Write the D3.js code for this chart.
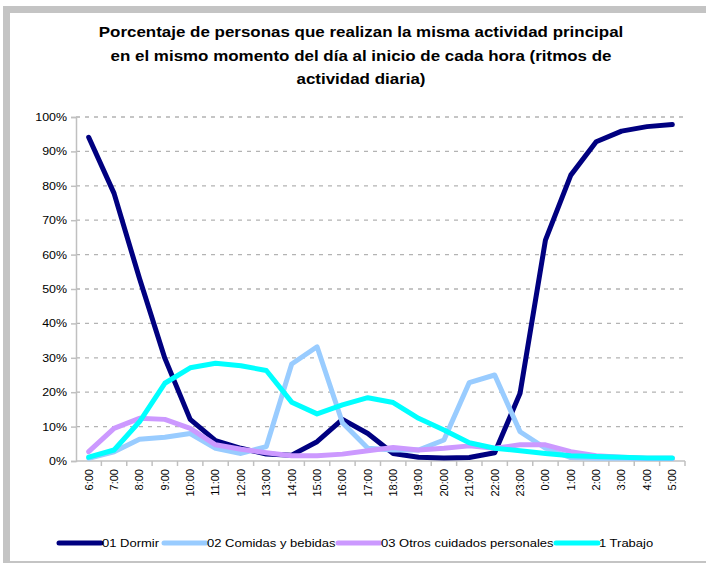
<!DOCTYPE html>
<html>
<head>
<meta charset="utf-8">
<script src="https://cdn.jsdelivr.net/npm/d3@7/dist/d3.min.js"></script>
<style>
  body { margin: 0; background: #fff; }
  svg { display: block; font-family: "Liberation Sans", Arial, sans-serif; }
</style>
</head>
<body>
<script>
// hours of the day (categories)
var hours = ["6:00","7:00","8:00","9:00","10:00","11:00","12:00","13:00","14:00","15:00","16:00","17:00",
             "18:00","19:00","20:00","21:00","22:00","23:00","0:00","1:00","2:00","3:00","4:00","5:00"];

// series values, in percent
var dormir   = [94.1,77.8,53.1,29.9,12.1,5.9,3.7,2.0,1.7,5.6,12.1,8.0,2.2,1.1,0.9,1.0,2.4,19.7,64.2,83.1,92.8,95.9,97.2,97.8];
var comidas  = [0.8,2.7,6.3,6.9,8.0,3.7,2.2,4.2,28.2,33.2,11.1,3.7,3.2,3.2,6.1,22.8,25.0,8.5,3.7,1.0,0.8,0.8,0.7,0.7];
var otros    = [2.7,9.5,12.4,12.1,9.5,4.7,3.4,2.4,1.5,1.5,2.0,3.0,3.9,3.2,3.7,4.4,3.7,4.7,4.7,2.7,1.5,1.1,0.8,0.8];
var trabajo  = [1.1,3.2,11.4,22.6,27.1,28.4,27.7,26.3,17.1,13.7,16.3,18.4,17.0,12.4,9.0,5.3,3.7,3.0,2.2,1.5,1.3,1.1,0.9,0.9];

var seriesNames  = ["01 Dormir","02 Comidas y bebidas","03 Otros cuidados personales","1 Trabajo"];
var seriesColors = ["#000080","#99CCFF","#CC99FF","#00FFFF"];
var seriesData   = [dormir, comidas, otros, trabajo];

var titleLines = ["Porcentaje de personas que realizan la misma actividad principal",
                  "en el mismo momento del día al inicio de cada hora (ritmos de",
                  "actividad diaria)"];

var width = 706, height = 563;
var margin = {top: 117, right: 21, bottom: 102, left: 76};
var stretch = 1.13; // text in the original is a bit wide

var svg = d3.select("body").append("svg")
    .attr("width", width)
    .attr("height", height);

// chart frame
svg.append("rect").attr("x", 3).attr("y", 6).attr("width", width - 3).attr("height", 7).attr("fill", "#c4c4c4");
svg.append("rect").attr("x", 3).attr("y", 6).attr("width", 7).attr("height", height - 6).attr("fill", "#c4c4c4");
svg.append("rect").attr("x", 3).attr("y", 561).attr("width", width - 3).attr("height", 2).attr("fill", "#c4c4c4");

// title
svg.append("g").selectAll("text")
    .data(titleLines)
  .enter().append("text")
    .attr("transform", function(d, i) {
      return "translate(361," + (37 + i * 23.5) + ") scale(" + stretch + ",1)";
    })
    .attr("text-anchor", "middle")
    .style("font-size", "15px")
    .style("font-weight", "bold")
    .text(function(d) { return d; });

var x = d3.scaleBand()
    .domain(hours)
    .range([margin.left, width - margin.right]);

var y = d3.scaleLinear()
    .domain([0, 100])
    .range([height - margin.bottom, margin.top]);

// grid lines
svg.append("g").selectAll("line")
    .data(d3.range(10, 101, 10))
  .enter().append("line")
    .attr("x1", margin.left)
    .attr("x2", width - margin.right)
    .attr("y1", function(d) { return y(d); })
    .attr("y2", function(d) { return y(d); })
    .attr("stroke", "#b3b3b3")
    .attr("stroke-width", 1.3)
    .attr("stroke-dasharray", "4,5");

// y axis
var yAxis = svg.append("g")
    .attr("transform", "translate(" + margin.left + ",0)")
    .call(d3.axisLeft(y)
      .tickValues(d3.range(0, 101, 10))
      .tickSize(5)
      .tickPadding(4)
      .tickFormat(function(d) { return d + "%"; }));
yAxis.select(".domain").attr("stroke", "#c0c0c0").attr("stroke-width", 1.5);
yAxis.selectAll(".tick line").attr("stroke", "#c0c0c0").attr("stroke-width", 1.5);
yAxis.selectAll("text")
    .attr("x", 0)
    .attr("transform", "translate(-9,0) scale(" + stretch + ",1)")
    .style("font-size", "11px")
    .attr("fill", "#000");

// x axis line and ticks at band edges
var xg = svg.append("g");
xg.append("line")
    .attr("x1", margin.left).attr("x2", width - margin.right)
    .attr("y1", y(0)).attr("y2", y(0))
    .attr("stroke", "#c0c0c0").attr("stroke-width", 1.5);
xg.selectAll(".xt")
    .data(hours)
  .enter().append("line")
    .attr("class", "xt")
    .attr("x1", function(d) { return x(d) + x.bandwidth(); })
    .attr("x2", function(d) { return x(d) + x.bandwidth(); })
    .attr("y1", y(0)).attr("y2", y(0) + 5)
    .attr("stroke", "#c0c0c0").attr("stroke-width", 1.5);
xg.selectAll("text")
    .data(hours)
  .enter().append("text")
    .attr("transform", function(d) {
      return "translate(" + (x(d) + x.bandwidth() / 2) + "," + (y(0) + 8) + ") rotate(-90)";
    })
    .attr("dy", "0.35em")
    .attr("text-anchor", "end")
    .style("font-size", "11px")
    .text(function(d) { return d; });

// lines
var line = d3.line()
    .x(function(d, i) { return x(hours[i]) + x.bandwidth() / 2; })
    .y(function(d) { return y(d); });

svg.append("g").selectAll("path")
    .data(seriesData)
  .enter().append("path")
    .attr("d", line)
    .attr("fill", "none")
    .attr("stroke", function(d, i) { return seriesColors[i]; })
    .attr("stroke-width", 5)
    .attr("stroke-linejoin", "round")
    .attr("stroke-linecap", "round");

// legend
var legendX = [59, 164, 338, 556];
var legendY = 543;
var lg = svg.append("g");
seriesNames.forEach(function(name, i) {
  lg.append("line")
    .attr("x1", legendX[i]).attr("x2", legendX[i] + 42)
    .attr("y1", legendY).attr("y2", legendY)
    .attr("stroke", seriesColors[i])
    .attr("stroke-width", 5)
    .attr("stroke-linecap", "round");
  lg.append("text")
    .attr("transform", "translate(" + (legendX[i] + 43) + "," + legendY + ") scale(" + stretch + ",1)")
    .attr("dy", "0.35em")
    .style("font-size", "11.5px")
    .text(name);
});
</script>
</body>
</html>
